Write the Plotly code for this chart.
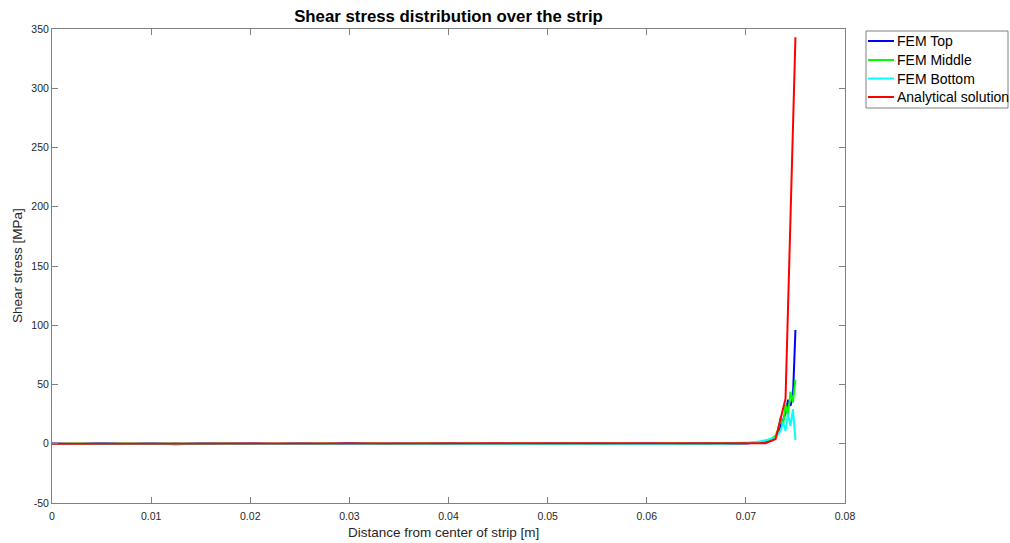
import plotly.graph_objects as go

# ---- data ----
x_fem = [0.0, 0.0025, 0.005, 0.0075, 0.01, 0.0125, 0.015, 0.0175, 0.02, 0.0225,
         0.025, 0.0275, 0.03, 0.0325, 0.035, 0.0375, 0.04, 0.0425, 0.045, 0.0475,
         0.05, 0.0525, 0.055, 0.0575, 0.06, 0.0625, 0.065, 0.0675, 0.07,
         0.0705, 0.071, 0.0715, 0.072, 0.0725, 0.073, 0.07325, 0.0735, 0.07375,
         0.074, 0.07425, 0.0745, 0.07475, 0.075]

fem_top = [0.2, -0.3, 0.4, -0.2, 0.3, -0.4, 0.2, -0.1, 0.3, -0.3,
           0.2, -0.2, 0.4, -0.3, 0.1, -0.2, 0.3, -0.2, 0.2, -0.3,
           0.3, -0.1, 0.2, -0.3, 0.2, -0.2, 0.3, -0.1, 0.3,
           0.5, 0.8, 1.2, 1.8, 2.8, 6, 10, 15, 20, 26, 37, 32, 40, 96]

fem_middle = [-0.2, 0.3, -0.3, 0.2, -0.2, 0.3, -0.3, 0.2, -0.2, 0.1,
              -0.3, 0.3, -0.2, 0.2, -0.3, 0.2, -0.1, 0.3, -0.2, 0.2,
              -0.3, 0.2, -0.2, 0.3, -0.2, 0.2, -0.1, 0.3, 0.4,
              0.6, 1.0, 1.6, 2.4, 3.8, 7, 12, 22, 15, 33, 24, 44, 35, 54]

fem_bottom = [0.1, -0.2, 0.3, -0.3, 0.2, -0.1, 0.3, -0.2, 0.1, -0.3,
              0.3, -0.2, 0.1, -0.2, 0.3, -0.3, 0.2, -0.2, 0.1, -0.2,
              0.2, -0.3, 0.3, -0.2, 0.1, -0.3, 0.2, -0.2, 0.5,
              0.9, 1.5, 2.2, 3.0, 4.0, 5, 8, 11, 18, 11, 25, 15, 29, 3]

x_analytical = [0.0, 0.01, 0.02, 0.03, 0.04, 0.05, 0.06, 0.07, 0.071, 0.072, 0.073, 0.074, 0.075]
analytical = [0.0, 0.0, 0.0, 0.0, 0.0, 0.0, 0.0, 0.0, 0.1, 0.5, 4, 38, 343]

series_names = ["FEM Top", "FEM Middle", "FEM Bottom", "Analytical solution"]
series_colors = ["#0000FF", "#00FF00", "#00FFFF", "#FF0000"]

x_ticks = [0, 0.01, 0.02, 0.03, 0.04, 0.05, 0.06, 0.07, 0.08]
x_tick_labels = ["0", "0.01", "0.02", "0.03", "0.04", "0.05", "0.06", "0.07", "0.08"]
y_ticks = [-50, 0, 50, 100, 150, 200, 250, 300, 350]
y_tick_labels = ["-50", "0", "50", "100", "150", "200", "250", "300", "350"]

FONT = "Liberation Sans, Arial, Helvetica, sans-serif"
AX = "#808080"
TXT = "#262626"

# plot-area geometry (pixels)
W, H = 1010, 543
L, R, T, B = 52, 845, 29, 503


def px(xp):
    return (xp - L) / (R - L)


def py(yp):
    return (B - yp) / (B - T)


fig = go.Figure()
xs = [x_fem, x_fem, x_fem, x_analytical]
ys = [fem_top, fem_middle, fem_bottom, analytical]
for name, col, xv, yv in zip(series_names, series_colors, xs, ys):
    fig.add_trace(go.Scatter(x=xv, y=yv, mode="lines", name=name,
                             line=dict(color=col, width=2), showlegend=False))

axis_common = dict(
    showgrid=False, zeroline=False, showline=True, linecolor=AX, linewidth=1,
    mirror="ticks", ticks="inside", ticklen=6, tickcolor=AX, automargin=False,
    tickfont=dict(family=FONT, size=10.5, color=TXT),
)

shapes = []
annotations = []
# legend box (drawn manually so the plot area is not shrunk)
shapes.append(dict(type="rect", xref="paper", yref="paper",
                   x0=px(866), x1=px(1008), y0=py(108), y1=py(31),
                   line=dict(color=AX, width=1), fillcolor="white", layer="above"))
item_y = [41, 60, 78.5, 97]
for name, col, yy in zip(series_names, series_colors, item_y):
    shapes.append(dict(type="line", xref="paper", yref="paper",
                       x0=px(868), x1=px(894), y0=py(yy), y1=py(yy),
                       line=dict(color=col, width=2), layer="above"))
    annotations.append(dict(text=name, xref="paper", yref="paper",
                            x=px(895), y=py(yy), xanchor="left", yanchor="middle",
                            showarrow=False,
                            font=dict(family=FONT, size=14, color="#000000")))

# axis titles
annotations.append(dict(text="Distance from center of strip [m]", xref="paper", yref="paper",
                        x=px(443), y=py(532), xanchor="center", yanchor="middle", showarrow=False,
                        font=dict(family=FONT, size=13.5, color=TXT)))
annotations.append(dict(text="Shear stress [MPa]", xref="paper", yref="paper",
                        x=px(17), y=0.5, xanchor="center", yanchor="middle", showarrow=False,
                        textangle=-90,
                        font=dict(family=FONT, size=13.5, color=TXT)))

fig.update_layout(
    width=W, height=H,
    margin=dict(l=L, r=W - R, t=T, b=H - B),
    paper_bgcolor="white", plot_bgcolor="white",
    font=dict(family=FONT, color=TXT),
    title=dict(text="<b>Shear stress distribution over the strip</b>",
               x=(L + R) / 2 / W, xanchor="center", y=1 - 16.5 / H, yanchor="middle",
               font=dict(family=FONT, size=16.8, color="#000000")),
    xaxis=dict(range=[0, 0.08], tickvals=x_ticks, ticktext=x_tick_labels,
               ticklabelstandoff=3, **axis_common),
    yaxis=dict(range=[-50, 350], tickvals=y_ticks, ticktext=y_tick_labels, **axis_common),
    shapes=shapes,
    annotations=annotations,
    showlegend=False,
)

fig.write_html("out.html")
